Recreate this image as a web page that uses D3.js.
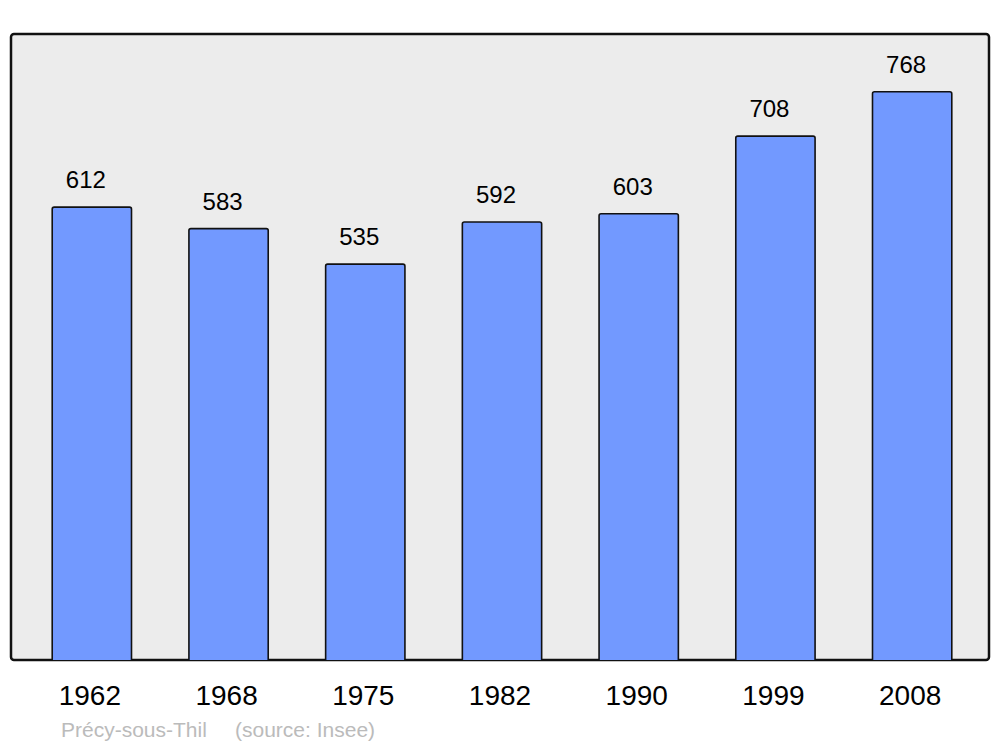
<!DOCTYPE html>
<html>
<head>
<meta charset="utf-8">
<script src="https://cdn.jsdelivr.net/npm/d3@7"></script>
<style>
  body { margin: 0; background: #fff; }
  svg { display: block; font-family: "Liberation Sans", Arial, sans-serif; }
</style>
</head>
<body>
<svg id="chart" width="1000" height="747"></svg>
<script>
const years = ["1962", "1968", "1975", "1982", "1990", "1999", "2008"];
const population = [612, 583, 535, 592, 603, 708, 768];
const commune = "Précy-sous-Thil";
const source = "(source: Insee)";

const svg = d3.select("#chart");

// cadre gris
const frame = { x: 11, y: 34, w: 978, h: 626 };
svg.append("rect")
    .attr("x", frame.x).attr("y", frame.y)
    .attr("width", frame.w).attr("height", frame.h)
    .attr("rx", 3)
    .attr("fill", "#ececec")
    .attr("stroke", "#111")
    .attr("stroke-width", 2.5);

const x = d3.scaleBand()
    .domain(years)
    .range([23.5, 980.5])
    .paddingInner(0.42)
    .paddingOuter(0.21);

const y = d3.scaleLinear()
    .domain([0, 846])
    .range([frame.y + frame.h, frame.y]);

const data = years.map((yr, i) => ({ year: yr, value: population[i] }));

// barres avec coins arrondis en haut
const barPath = d => {
    const x0 = x(d.year), x1 = x0 + x.bandwidth();
    const y0 = y(d.value), yb = y(0);
    const r = 2;
    return `M${x0},${yb}V${y0 + r}Q${x0},${y0} ${x0 + r},${y0}H${x1 - r}Q${x1},${y0} ${x1},${y0 + r}V${yb}`;
};

svg.append("g")
    .selectAll("path")
    .data(data)
    .enter().append("path")
    .attr("d", barPath)
    .attr("fill", "#7299ff")
    .attr("stroke", "#111")
    .attr("stroke-width", 1.6);

// valeurs au-dessus des barres
svg.append("g")
    .selectAll("text")
    .data(data)
    .enter().append("text")
    .attr("x", d => x(d.year) + x.bandwidth() / 2 - 6)
    .attr("y", d => y(d.value) - 19)
    .attr("text-anchor", "middle")
    .attr("font-size", 24)
    .attr("fill", "#000")
    .text(d => d.value);

// années
svg.append("g")
    .selectAll("text")
    .data(data)
    .enter().append("text")
    .attr("x", d => x(d.year) + x.bandwidth() / 2 - 2)
    .attr("y", 705)
    .attr("text-anchor", "middle")
    .attr("font-size", 28)
    .attr("fill", "#000")
    .text(d => d.year);

// légende bas
svg.append("text")
    .attr("x", 61).attr("y", 737)
    .attr("font-size", 21)
    .attr("fill", "#bbb")
    .text(commune);
svg.append("text")
    .attr("x", 235).attr("y", 737)
    .attr("font-size", 21)
    .attr("fill", "#bbb")
    .text(source);
</script>
</body>
</html>
